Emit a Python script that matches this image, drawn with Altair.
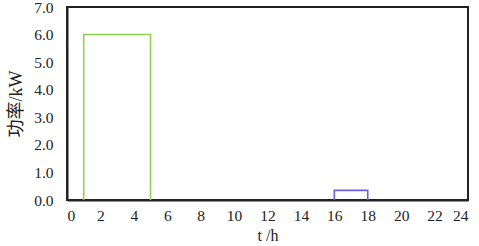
import altair as alt
import pandas as pd

# Series: step-shaped power profiles (hour, kW)
green_t = [1, 1, 5, 5]
green_p = [0.0, 6.0, 6.0, 0.0]
purple_t = [16, 16, 18, 18]
purple_p = [0.0, 0.35, 0.35, 0.0]

x_ticks = list(range(0, 25, 2))
y_ticks = [0, 1, 2, 3, 4, 5, 6, 7]

rows = []
for i, (t, p) in enumerate(zip(green_t, green_p)):
    rows.append({"t": t, "p": p, "s": "g", "o": i})
for i, (t, p) in enumerate(zip(purple_t, purple_p)):
    rows.append({"t": t, "p": p, "s": "b", "o": i})
df = pd.DataFrame(rows)

font = "Liberation Serif, Times New Roman, Noto Sans CJK SC"

chart = alt.Chart(df).mark_line(strokeWidth=1.6).encode(
    x=alt.X("t:Q", scale=alt.Scale(domain=[0, 24], nice=False),
            axis=alt.Axis(values=x_ticks, title="t /h", grid=False, ticks=False,
                          labelPadding=8, titlePadding=4, format="d")),
    y=alt.Y("p:Q", scale=alt.Scale(domain=[0, 7], nice=False),
            axis=alt.Axis(values=y_ticks, title="功率/kW", grid=False, ticks=False,
                          labelPadding=14, titlePadding=8, titleFontSize=18, format=".1f")),
    color=alt.Color("s:N", scale=alt.Scale(domain=["g", "b"], range=["#92d050", "#6f5fd8"]), legend=None),
    detail="s:N",
    order="o:Q",
).properties(
    width=401, height=193,
    background="white",
    autosize=alt.AutoSizeParams(type="none"),
    padding={"left": 67, "top": 7, "right": 11, "bottom": 46},
).configure_view(
    stroke="#222222", strokeWidth=2
).configure_axis(
    domainColor="#222222", domainWidth=2,
    labelFont=font, titleFont=font,
    labelFontSize=15.5, titleFontSize=16,
    labelColor="#222222", titleColor="#222222", titleFontWeight="normal",
)

chart.save("out.html", embed_options={"renderer": "svg", "actions": False})
